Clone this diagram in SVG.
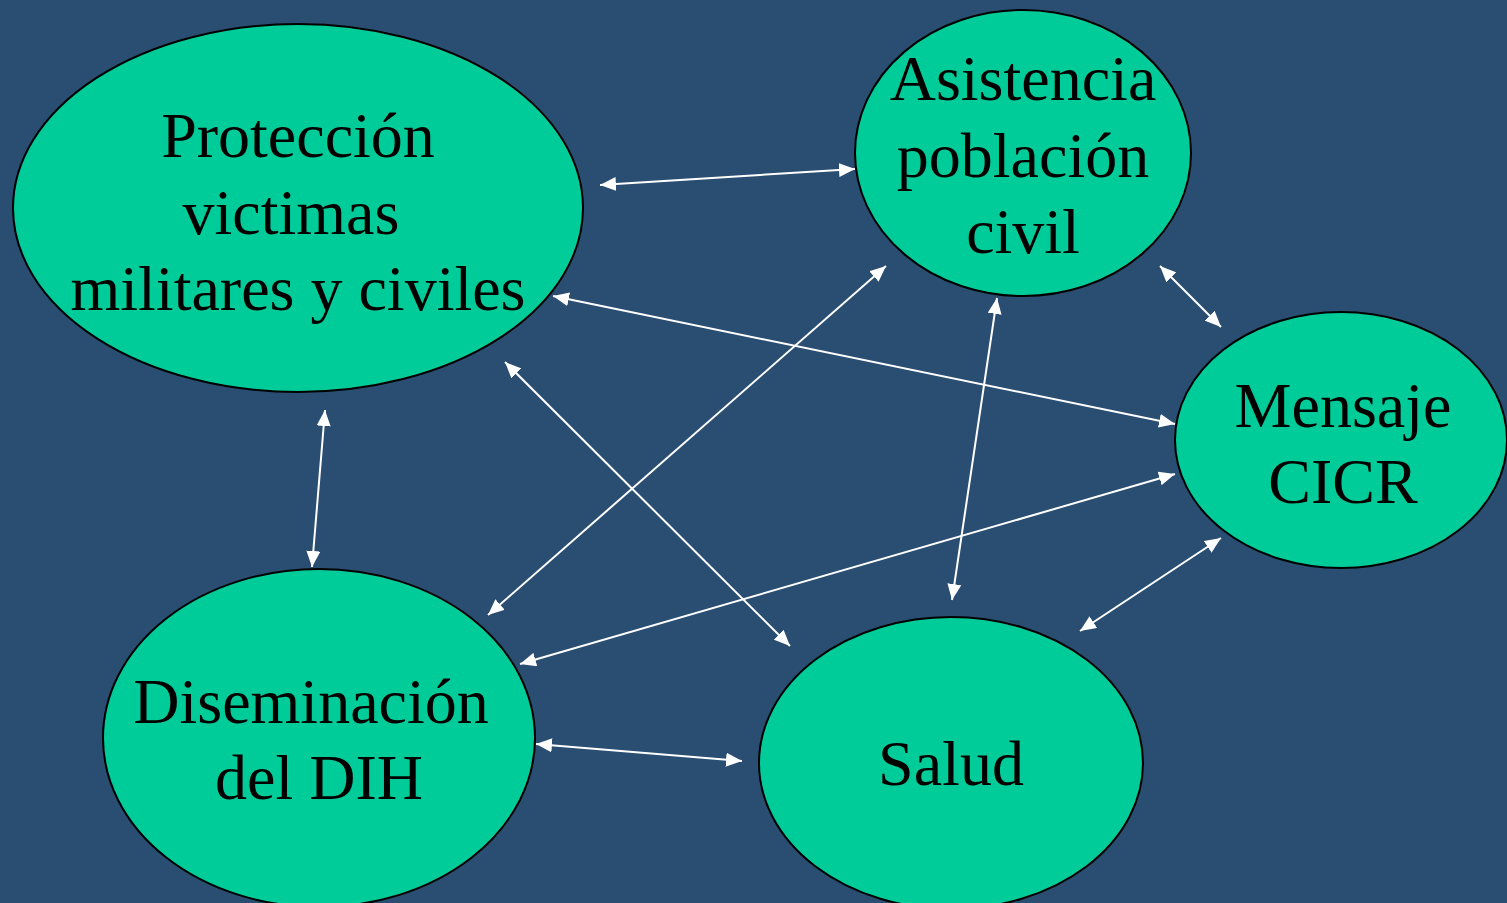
<svg xmlns="http://www.w3.org/2000/svg" width="1507" height="903" viewBox="0 0 1507 903">
<defs>
<style>
.node{fill:#00cc99;stroke:#000;stroke-width:2}
.lbl{font-family:"Liberation Serif","Times New Roman",serif;font-size:64px;fill:#000;text-anchor:middle}
.conn{stroke:#fff;stroke-width:2;fill:none;marker-start:url(#ah);marker-end:url(#ah)}
</style>
<marker id="ah" markerUnits="userSpaceOnUse" markerWidth="18" markerHeight="14" refX="16" refY="7" orient="auto-start-reverse">
<path d="M0,0 L16,7 L0,14 Z" fill="#fff"/>
</marker>
</defs>
<rect width="1507" height="903" fill="#2a4d72"/>
<g id="n-proteccion">
<ellipse class="node" cx="298" cy="208" rx="285" ry="184"/>
<text class="lbl" x="298" y="157">Protección</text>
<text class="lbl" x="291" y="234">victimas</text>
<text class="lbl" x="298" y="310">militares y civiles</text>
</g>
<g id="n-asistencia">
<ellipse class="node" cx="1023" cy="153" rx="168" ry="143"/>
<text class="lbl" x="1023" y="100">Asistencia</text>
<text class="lbl" x="1023" y="177">población</text>
<text class="lbl" x="1023" y="253">civil</text>
</g>
<g id="n-mensaje">
<ellipse class="node" cx="1341" cy="440" rx="166" ry="128"/>
<text class="lbl" x="1343" y="427">Mensaje</text>
<text class="lbl" x="1343" y="503">CICR</text>
</g>
<g id="n-diseminacion">
<ellipse class="node" cx="319" cy="738" rx="216" ry="169"/>
<text class="lbl" x="311" y="723">Diseminación</text>
<text class="lbl" x="319" y="799">del DIH</text>
</g>
<g id="n-salud">
<ellipse class="node" cx="951" cy="763" rx="192" ry="146"/>
<text class="lbl" x="951" y="785">Salud</text>
</g>
<g id="connectors">
<line class="conn" x1="600" y1="185" x2="855" y2="169"/>
<line class="conn" x1="1160" y1="266" x2="1221" y2="327"/>
<line class="conn" x1="325" y1="410" x2="312" y2="567"/>
<line class="conn" x1="1080" y1="631" x2="1221" y2="538"/>
<line class="conn" x1="553" y1="296" x2="1175" y2="424"/>
<line class="conn" x1="886" y1="266" x2="488" y2="615"/>
<line class="conn" x1="505" y1="362" x2="790" y2="646"/>
<line class="conn" x1="997" y1="298" x2="952" y2="600"/>
<line class="conn" x1="1175" y1="474" x2="520" y2="664"/>
<line class="conn" x1="536" y1="744" x2="742" y2="761"/>
</g>
</svg>
